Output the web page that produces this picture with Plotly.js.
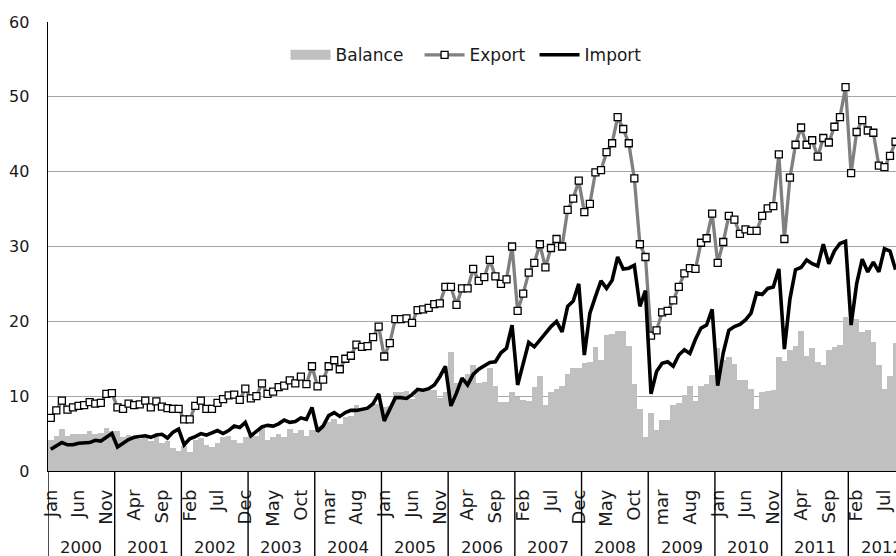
<!DOCTYPE html>
<html>
<head>
<meta charset="utf-8">
<script src="https://cdn.plot.ly/plotly-3.0.1.min.js"></script>
<style>
html,body{margin:0;padding:0;overflow:hidden;background:#fff;width:896px;height:556px;}
#chart{width:930px;height:556px;}
</style>
</head>
<body>
<div id="chart"></div>
<script>
// Year groups on the x axis
const years = ['2000','2001','2002','2003','2004','2005','2006','2007','2008','2009','2010','2011','2012'];
// Month tick labels shown every 5th month, as in the reference
const monthTicks = ['Jan','Jun','Nov','Apr','Sep','Feb','Jul','Dec','May','Oct','mar','Aug',
                    'Jan','Jun','Nov','Apr','Sep','Feb','Jul','Dec','May','Oct','mar','Aug',
                    'Jan','Jun','Nov','Apr','Sep','Feb','Jul','Dec'];

// Monthly values from Jan 2000
const exportVals = [
 7.1,8.1,9.4,8.2,8.5,8.7,8.8,9.2,9.0,9.1,10.3,10.4,
 8.5,8.3,9.0,8.8,8.9,9.4,8.5,9.3,8.6,8.4,8.3,8.3,
 6.9,6.9,8.7,9.4,8.3,8.3,9.1,9.6,10.1,10.2,9.5,11.0,
 9.7,10.0,11.7,10.3,10.6,11.2,11.4,12.1,11.7,12.6,11.6,14.0,
 11.3,12.2,14.0,14.8,13.6,15.0,15.4,16.9,16.6,16.7,17.9,19.3,
 15.3,17.1,20.3,20.3,20.4,19.8,21.5,21.6,21.8,22.3,22.4,24.6,
 24.6,22.2,24.4,24.4,27.0,25.4,25.9,28.2,26.0,25.0,25.6,30.0,
 21.4,23.7,26.5,27.8,30.3,27.2,29.8,31.0,30.0,34.9,36.4,38.8,
 34.6,35.7,39.9,40.2,42.6,43.8,47.3,45.7,43.8,39.1,30.3,28.6,
 18.1,18.8,21.2,21.4,22.8,24.6,26.4,27.1,27.0,30.5,31.1,34.4,
 27.8,30.6,34.1,33.6,31.7,32.3,32.1,32.1,34.1,35.1,35.4,42.3,
 31.0,39.2,43.6,45.9,43.6,44.2,42.0,44.5,43.9,46.0,47.3,51.3,
 39.8,45.3,46.9,45.5,45.2,40.8,40.6,42.1,44.0
];
const importVals = [
 2.9,3.4,3.8,3.5,3.5,3.7,3.8,3.8,4.1,4.0,4.5,5.0,
 3.2,3.7,4.2,4.5,4.6,4.7,4.5,4.8,4.9,4.4,5.2,5.6,
 3.5,4.3,4.6,5.0,4.8,5.1,5.4,5.0,5.4,6.0,5.8,6.5,
 4.7,5.3,5.9,6.1,6.0,6.3,6.8,6.5,6.6,7.1,6.9,8.5,
 5.3,6.0,7.4,7.8,7.3,7.8,8.1,8.1,8.2,8.4,9.0,10.3,
 6.7,8.4,9.8,9.8,9.7,10.2,10.9,10.8,11.0,11.5,12.6,14.0,
 8.7,10.4,12.4,11.5,12.9,13.6,14.0,14.5,14.6,15.8,16.4,19.5,
 11.5,14.2,17.2,16.6,17.6,18.4,19.3,20.0,18.6,22.0,22.7,25.0,
 15.5,21.1,23.3,25.4,24.4,25.5,28.6,27.0,27.1,27.5,22.0,24.1,
 10.3,13.3,14.4,14.6,14.0,15.5,16.2,15.7,17.6,19.1,19.5,21.6,
 11.4,15.8,18.8,19.3,19.6,20.2,21.1,23.8,23.6,24.4,24.6,27.0,
 16.3,23.0,26.9,27.2,28.2,27.7,27.4,30.3,27.7,29.4,30.4,30.7,
 19.5,25.0,28.3,26.6,27.9,26.6,29.7,29.4,26.9
];
const balanceVals = [
 4.2,4.7,5.6,4.7,5.0,5.0,5.0,5.4,4.9,5.1,5.8,5.4,
 5.3,4.6,4.8,4.3,4.3,4.7,4.0,4.5,3.7,4.0,3.1,2.7,
 3.4,2.6,4.1,4.4,3.5,3.2,3.7,4.6,4.7,4.2,3.7,4.5,
 5.0,4.7,5.8,4.2,4.6,4.9,4.6,5.6,5.1,5.5,4.7,5.5,
 6.0,6.2,6.6,7.0,6.3,7.2,7.3,8.8,8.4,8.3,8.9,9.0,
 8.6,8.7,10.5,10.5,10.7,9.6,10.6,10.8,10.8,10.8,9.8,10.6,
 15.9,11.8,12.0,12.9,14.1,11.8,11.9,13.7,11.4,9.2,9.2,10.5,
 9.9,9.5,9.3,11.2,12.7,8.8,10.5,11.0,11.4,12.9,13.7,13.8,
 14.4,14.6,16.6,14.8,18.2,18.3,18.7,18.7,16.7,11.6,8.3,4.5,
 7.8,5.5,6.8,6.8,8.8,9.1,10.2,11.4,9.4,11.4,11.6,12.8,
 16.4,14.8,15.3,14.3,12.1,12.1,11.0,8.3,10.5,10.7,10.8,15.3,
 14.7,16.2,16.7,18.7,15.4,16.5,14.6,14.2,16.2,16.6,16.9,20.6,
 20.3,20.3,18.6,18.9,17.3,14.2,10.9,12.7,17.1
];

const idx = exportVals.map((_, i) => i);
const nMonths = years.length * 12;
const tickPos = monthTicks.map((_, k) => k * 5);

const FONT = 'DejaVu Sans, sans-serif';
const TXT = '#1a1a1a';

const traces = [
  {type:'bar', x: idx, y: balanceVals, name:'Balance', marker:{color:'#c0c0c0', line:{width:0}},
   showlegend:false, legendgroup:'bal', hoverinfo:'x+y'},
  {type:'scatter', mode:'lines', x:[null], y:[null], name:'Balance', legendgroup:'bal',
   legendwidth:79, line:{color:'#c0c0c0', width:10}},
  {type:'scatter', mode:'lines+markers', x: idx, y: exportVals, name:'Export', legendwidth:60,
   line:{color:'#808080', width:3.3},
   marker:{symbol:'square', size:7, color:'#ffffff', line:{color:'#000000', width:1.3}}},
  {type:'scatter', mode:'lines', x: idx, y: importVals, name:'Import', legendwidth:60,
   line:{color:'#000000', width:3.6}}
];

const shapes = [];
for (let k = 0; k <= years.length; k++) {
  shapes.push({type:'line', xref:'x', yref:'paper', x0: k*12 - 0.5, x1: k*12 - 0.5,
               y0: 0, y1: -0.25, line:{color:'#000', width:1.4}, layer:'above'});
}
const annotations = years.map((yr, k) => ({
  xref:'x', yref:'paper', x: k*12 + 5.5, y: -0.171, text: yr, showarrow:false,
  xanchor:'center', yanchor:'middle', font:{family:FONT, size:16.5, color:TXT}
}));

const layout = {
  width: 930, height: 556,
  margin: {l:48, r:15, t:22, b:85},
  paper_bgcolor:'#ffffff', plot_bgcolor:'#ffffff',
  bargap: 0,
  showlegend: true,
  legend: {orientation:'h', x:0.274, xanchor:'left', y:0.926, yanchor:'middle', itemwidth:40,
           font:{family:FONT, size:17, color:TXT}, bgcolor:'rgba(0,0,0,0)', traceorder:'normal'},
  xaxis: {type:'linear', range:[-0.5, nMonths - 0.5], tickmode:'array', tickvals: tickPos,
          ticktext: monthTicks, tickangle:-90, ticks:'', showgrid:false, zeroline:false,
          showline:true, linecolor:'#000', linewidth:1.4, ticklabelstandoff:10,
          tickfont:{family:FONT, size:18, color:TXT}},
  yaxis: {range:[0,60], dtick:10, tick0:0, ticks:'', showgrid:true, gridcolor:'#a6a6a6', gridwidth:1,
          zeroline:false, showline:true, linecolor:'#000', linewidth:1.4, ticklabelstandoff:14,
          tickfont:{family:FONT, size:16, color:TXT}},
  shapes: shapes,
  annotations: annotations
};

Plotly.newPlot('chart', traces, layout, {displayModeBar:false, staticPlot:true});
</script>
</body>
</html>
